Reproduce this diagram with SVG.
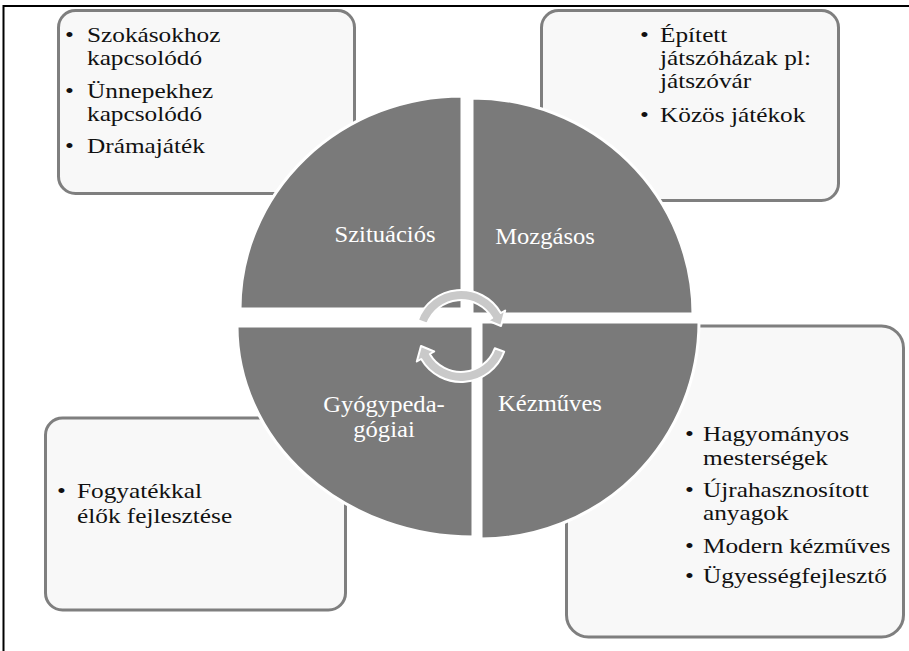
<svg xmlns="http://www.w3.org/2000/svg" width="909" height="651" viewBox="0 0 909 651">
<style>
.box{fill:#f8f8f8;stroke:#7f7f7f;stroke-width:3}
.q{fill:#7a7a7a;stroke:#ffffff;stroke-width:3}
text{font-family:"Liberation Serif","Times New Roman",serif}
.t{font-size:22px;fill:#111}
.l{font-size:23px;fill:#ffffff;text-anchor:middle}
.arr{fill:#c9c9c9;stroke:#ffffff;stroke-width:2;stroke-linejoin:round}
</style>
<rect x="0" y="0" width="909" height="651" fill="#ffffff"/>
<g id="frame">
<line x1="3" y1="6" x2="909" y2="6" stroke="#000" stroke-width="2"/>
<line x1="3.5" y1="5" x2="3.5" y2="651" stroke="#000" stroke-width="2"/>
</g>
<g id="box-tl">
<rect class="box" x="58.5" y="10.5" width="296" height="183" rx="17"/>
<text class="t" transform="translate(65,42) scale(1.15,1)">•</text><text class="t" transform="translate(87,42) scale(1.15,1)">Szokásokhoz</text>
<text class="t" transform="translate(87,65) scale(1.15,1)">kapcsolódó</text>
<text class="t" transform="translate(65,98) scale(1.15,1)">•</text><text class="t" transform="translate(87,98) scale(1.15,1)">Ünnepekhez</text>
<text class="t" transform="translate(87,121) scale(1.15,1)">kapcsolódó</text>
<text class="t" transform="translate(65,153) scale(1.15,1)">•</text><text class="t" transform="translate(87,153) scale(1.15,1)">Drámajáték</text>
</g>
<g id="box-tr">
<rect class="box" x="541.5" y="10.5" width="297" height="190" rx="17"/>
<text class="t" transform="translate(640,42) scale(1.15,1)">•</text><text class="t" transform="translate(660,42) scale(1.15,1)">Épített</text>
<text class="t" transform="translate(660,65) scale(1.15,1)">játszóházak pl:</text>
<text class="t" transform="translate(660,88) scale(1.15,1)">játszóvár</text>
<text class="t" transform="translate(640,122) scale(1.15,1)">•</text><text class="t" transform="translate(660,122) scale(1.15,1)">Közös játékok</text>
</g>
<g id="box-bl">
<rect class="box" x="45.5" y="418" width="300" height="192" rx="17"/>
<text class="t" transform="translate(57,498) scale(1.15,1)">•</text><text class="t" transform="translate(77,498) scale(1.15,1)">Fogyatékkal</text>
<text class="t" transform="translate(77,523) scale(1.15,1)">élők fejlesztése</text>
</g>
<g id="box-br">
<rect class="box" x="566.5" y="326" width="337" height="311" rx="22"/>
<text class="t" transform="translate(685,441) scale(1.15,1)">•</text><text class="t" transform="translate(703,441) scale(1.15,1)">Hagyományos</text>
<text class="t" transform="translate(703,465) scale(1.15,1)">mesterségek</text>
<text class="t" transform="translate(685,497) scale(1.15,1)">•</text><text class="t" transform="translate(703,497) scale(1.15,1)">Újrahasznosított</text>
<text class="t" transform="translate(703,520) scale(1.15,1)">anyagok</text>
<text class="t" transform="translate(685,553) scale(1.15,1)">•</text><text class="t" transform="translate(703,553) scale(1.15,1)">Modern kézműves</text>
<text class="t" transform="translate(685,583) scale(1.15,1)">•</text><text class="t" transform="translate(703,583) scale(1.15,1)">Ügyességfejlesztő</text>
</g>
<g id="q-szituacios">
<path class="q" d="M462,309 L240,309 A222,213 0 0 1 462,96 Z"/>
<text class="l" transform="translate(385,242) scale(1.07,1)">Szituációs</text>
</g>
<g id="q-mozgasos">
<path class="q" d="M472,314 L472,98 A221,216 0 0 1 693,314 Z"/>
<text class="l" transform="translate(545,244) scale(1.07,1)">Mozgásos</text>
</g>
<g id="q-kezmuves">
<path class="q" d="M481,322 L699,322 A218,217 0 0 1 481,539 Z"/>
<text class="l" transform="translate(550,411) scale(1.07,1)">Kézműves</text>
</g>
<g id="q-gyogypedagogiai">
<path class="q" d="M473,326 L473,537 A236,211 0 0 1 237,326 Z"/>
<text class="l" transform="translate(384,412) scale(1.07,1)">Gyógypeda-</text>
<text class="l" transform="translate(384,437) scale(1.07,1)">gógiai</text>
</g>
<g id="connectors">
<path class="arr" d="M417.8,320.3 A46,46 0 0 1 500.8,313 L505.2,310.5 L501,326 L487.8,320.5 L492.2,318 A36,36 0 0 0 427.2,323.7 Z"/>
<path class="arr" d="M504.2,351.7 A46,46 0 0 1 421.2,359 L416.8,361.5 L421,346 L434.2,351.5 L429.8,354 A36,36 0 0 0 494.8,348.3 Z"/>
</g>
</svg>
